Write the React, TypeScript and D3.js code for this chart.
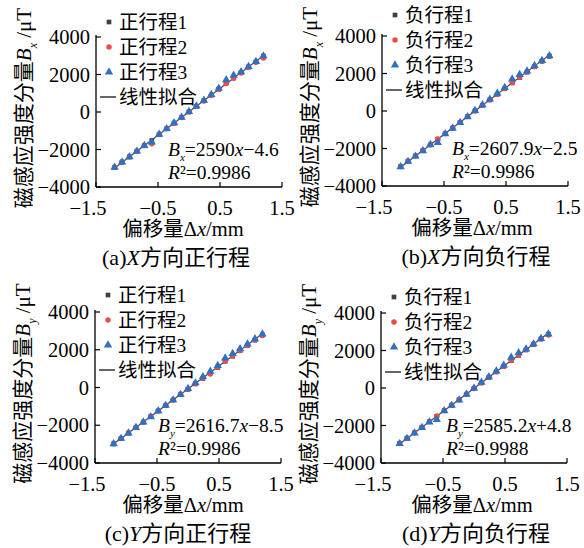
import React from "react";
import * as d3 from "d3";

// offsets (mm) shared by all four runs
const offsets = [-1.2, -1.08, -0.96, -0.84, -0.72, -0.6, -0.48, -0.36, -0.24, -0.12, 0, 0.12, 0.24, 0.36, 0.48, 0.6, 0.72, 0.84, 0.96, 1.08, 1.2];
const xTicks = [-1.5, -0.5, 0.5, 1.5];
const yTicks = [-4000, -2000, 0, 2000, 4000];

// (a) X forward
const aRun1 = [-2960, -2680, -2400, -2100, -1800, -1520, -1200, -900, -600, -300, 0, 300, 600, 900, 1220, 1560, 1820, 2100, 2400, 2680, 2980];
const aRun2 = [-2940, -2660, -2380, -2080, -1780, -1690, -1180, -880, -590, -290, 10, 310, 590, 890, 1200, 1520, 1800, 2080, 2380, 2660, 2880];
const aRun3 = [-2950, -2670, -2390, -2090, -1790, -1610, -1190, -890, -580, -280, 20, 320, 620, 930, 1260, 1720, 1960, 2140, 2420, 2690, 2990];
// (b) X backward
const bRun1 = [-2970, -2680, -2400, -2110, -1810, -1510, -1210, -910, -610, -300, 0, 300, 590, 890, 1190, 1500, 1780, 2070, 2360, 2650, 2930];
const bRun2 = [-2960, -2670, -2390, -2100, -1800, -1500, -1200, -900, -600, -290, 10, 310, 600, 900, 1200, 1520, 1800, 2090, 2380, 2670, 2910];
const bRun3 = [-2980, -2690, -2410, -2120, -1790, -1690, -1220, -920, -620, -310, 20, 330, 630, 940, 1250, 1700, 1940, 2130, 2420, 2690, 2940];
// (c) Y forward
const cRun1 = [-2990, -2710, -2420, -2130, -1840, -1540, -1250, -960, -670, -380, -100, 190, 480, 780, 1060, 1390, 1660, 1950, 2230, 2510, 2780];
const cRun2 = [-2970, -2690, -2400, -2110, -1820, -1520, -1230, -940, -650, -360, -80, 210, 500, 720, 1080, 1400, 1680, 1960, 2240, 2520, 2760];
const cRun3 = [-2980, -2700, -2410, -2120, -1830, -1560, -1240, -950, -660, -370, -60, 240, 560, 860, 1160, 1560, 1800, 2050, 2300, 2580, 2830];
// (d) Y backward
const dRun1 = [-2960, -2680, -2390, -2100, -1800, -1510, -1210, -920, -630, -330, -30, 270, 560, 860, 1150, 1460, 1740, 2030, 2320, 2610, 2870];
const dRun2 = [-2950, -2670, -2380, -2090, -1790, -1500, -1200, -910, -620, -320, -20, 280, 570, 870, 1160, 1480, 1760, 2050, 2340, 2620, 2830];
const dRun3 = [-2970, -2690, -2400, -2110, -1820, -1690, -1220, -930, -640, -340, -10, 300, 600, 900, 1210, 1640, 1880, 2080, 2350, 2640, 2880];

const FONT = '"Liberation Serif", "Times New Roman", "Noto Sans CJK SC", serif';
const colors = ["#404040", "#ee4b4b", "#2f6fc4"];
const symbols = [d3.symbolSquare, d3.symbolCircle, d3.symbolTriangle];
const symSizes = [22, 24, 30];

const panels = [
  { id: "a", px0: 96, top: 37, bottom: 187, runs: [aRun1, aRun2, aRun3], dir: "正", axis: "X", sub: "x",
    eq: "2590", sign: "−4.6", r2: "0.9986", eqDx: 72, legTop: -15, capX: 176, titleX: 183 },
  { id: "b", px0: 382, top: 36, bottom: 186, runs: [bRun1, bRun2, bRun3], dir: "负", axis: "X", sub: "x",
    eq: "2607.9", sign: "−2.5", r2: "0.9986", eqDx: 70, legTop: -21, capX: 476, titleX: 472 },
  { id: "c", px0: 95, top: 312, bottom: 463, runs: [cRun1, cRun2, cRun3], dir: "正", axis: "Y", sub: "y",
    eq: "2616.7", sign: "−8.5", r2: "0.9986", eqDx: 63, legTop: -17, capX: 178, titleX: 183 },
  { id: "d", px0: 381, top: 313, bottom: 463, runs: [dRun1, dRun2, dRun3], dir: "负", axis: "Y", sub: "y",
    eq: "2585.2", sign: "+4.8", r2: "0.9988", eqDx: 65, legTop: -16, capX: 476, titleX: 472 },
];

const Panel = ({ p }) => {
  const x = d3.scaleLinear().domain([-1.5, 1.5]).range([p.px0, p.px0 + 186]);
  const y = d3.scaleLinear().domain([-4000, 4000]).range([p.bottom, p.top]);

  // least-squares fit over all three runs
  const pts = p.runs.flatMap((run) => run.map((v, i) => [offsets[i], v]));
  const mx = d3.mean(pts, (d) => d[0]);
  const my = d3.mean(pts, (d) => d[1]);
  const k = d3.sum(pts, (d) => (d[0] - mx) * (d[1] - my)) / d3.sum(pts, (d) => (d[0] - mx) ** 2);
  const b = my - k * mx;
  const x0 = d3.min(offsets), x1 = d3.max(offsets);
  const fitLine = d3.line()([[x(x0), y(k * x0 + b)], [x(x1), y(k * x1 + b)]]);

  const legendNames = [1, 2, 3].map((n) => `${p.dir}行程${n}`);
  const lx = p.px0;
  const rowY = (i) => p.top + p.legTop + 25 * i;

  return (
    <g>
      {/* axes */}
      <line x1={p.px0} x2={p.px0} y1={p.top - 2} y2={p.bottom} stroke="#000" strokeWidth={1.3} />
      <line x1={p.px0} x2={p.px0 + 186} y1={p.bottom} y2={p.bottom} stroke="#000" strokeWidth={1.3} />
      {yTicks.map((t) => (
        <g key={"y" + t}>
          <line x1={p.px0} x2={p.px0 + 5} y1={y(t)} y2={y(t)} stroke="#000" strokeWidth={1.2} />
          <text x={p.px0 - 6} y={y(t)} dy="0.35em" textAnchor="end" fontSize={20.5}>
            {t < 0 ? "−" + Math.abs(t) : t}
          </text>
        </g>
      ))}
      {xTicks.map((t, i) => (
        <g key={"x" + t}>
          <line x1={x(t)} x2={x(t)} y1={p.bottom} y2={p.bottom - 5} stroke="#000" strokeWidth={1.2} />
          <text x={x(t) + (i === 0 ? -8 : 0)} y={p.bottom + 28} textAnchor="middle" fontSize={20.5}>
            {t < 0 ? "−" + Math.abs(t) : t}
          </text>
        </g>
      ))}

      {/* fit + data */}
      <path d={fitLine} stroke="#4a4a4a" strokeWidth={1.2} fill="none" />
      {p.runs.map((run, s) =>
        run.map((v, i) => (
          <path
            key={s + "-" + i}
            d={d3.symbol(symbols[s], symSizes[s])()}
            transform={`translate(${x(offsets[i])},${y(v)})`}
            fill={colors[s]}
          />
        ))
      )}

      {/* legend */}
      {legendNames.map((name, s) => (
        <g key={name}>
          <path d={d3.symbol(symbols[s], symSizes[s])()} transform={`translate(${lx + 13},${rowY(s)})`} fill={colors[s]} />
          <text x={lx + 23} y={rowY(s)} dy="0.35em" fontSize={19.5}>{name}</text>
        </g>
      ))}
      <line x1={lx + 4} x2={lx + 20} y1={rowY(3)} y2={rowY(3)} stroke="#333" strokeWidth={1.5} />
      <text x={lx + 23} y={rowY(3)} dy="0.35em" fontSize={19.5}>线性拟合</text>

      {/* equation */}
      <text x={p.px0 + p.eqDx} y={p.bottom - 31} fontSize={19.5}>
        <tspan fontStyle="italic">B</tspan>
        <tspan fontStyle="italic" fontSize={11} dy={5}>{p.sub}</tspan>
        <tspan dy={-5}>{"=" + p.eq}</tspan>
        <tspan fontStyle="italic">x</tspan>
        <tspan>{p.sign}</tspan>
      </text>
      <text x={p.px0 + p.eqDx} y={p.bottom - 8} fontSize={19.5}>
        <tspan fontStyle="italic">R</tspan>
        <tspan>²=</tspan>
        <tspan>{p.r2}</tspan>
      </text>

      {/* y title */}
      <text
        transform={`translate(${p.px0 - 72},${(p.top + p.bottom) / 2 - 4}) rotate(-90)`}
        textAnchor="middle"
        dy="0.35em"
        fontSize={21}
      >
        磁感应强度分量
        <tspan fontStyle="italic">B</tspan>
        <tspan fontStyle="italic" fontSize={12} dy={6}>{p.sub}</tspan>
        <tspan dy={-6}> /μT</tspan>
      </text>

      {/* x title + caption */}
      <text x={p.titleX} y={p.bottom + 49} textAnchor="middle" fontSize={20.5}>
        偏移量Δ<tspan fontStyle="italic">x</tspan>/mm
      </text>
      <text x={p.capX} y={p.bottom + 78} textAnchor="middle" fontSize={22}>
        ({p.id})<tspan fontStyle="italic">{p.axis}</tspan>方向{p.dir}行程
      </text>
    </g>
  );
};

export default function App() {
  return (
    <svg
      width={584}
      height={548}
      style={{ position: "absolute", left: 0, top: 0, background: "#fff" }}
      fontFamily={FONT}
      fill="#000"
    >
      {panels.map((p) => (
        <Panel key={p.id} p={p} />
      ))}
    </svg>
  );
}
